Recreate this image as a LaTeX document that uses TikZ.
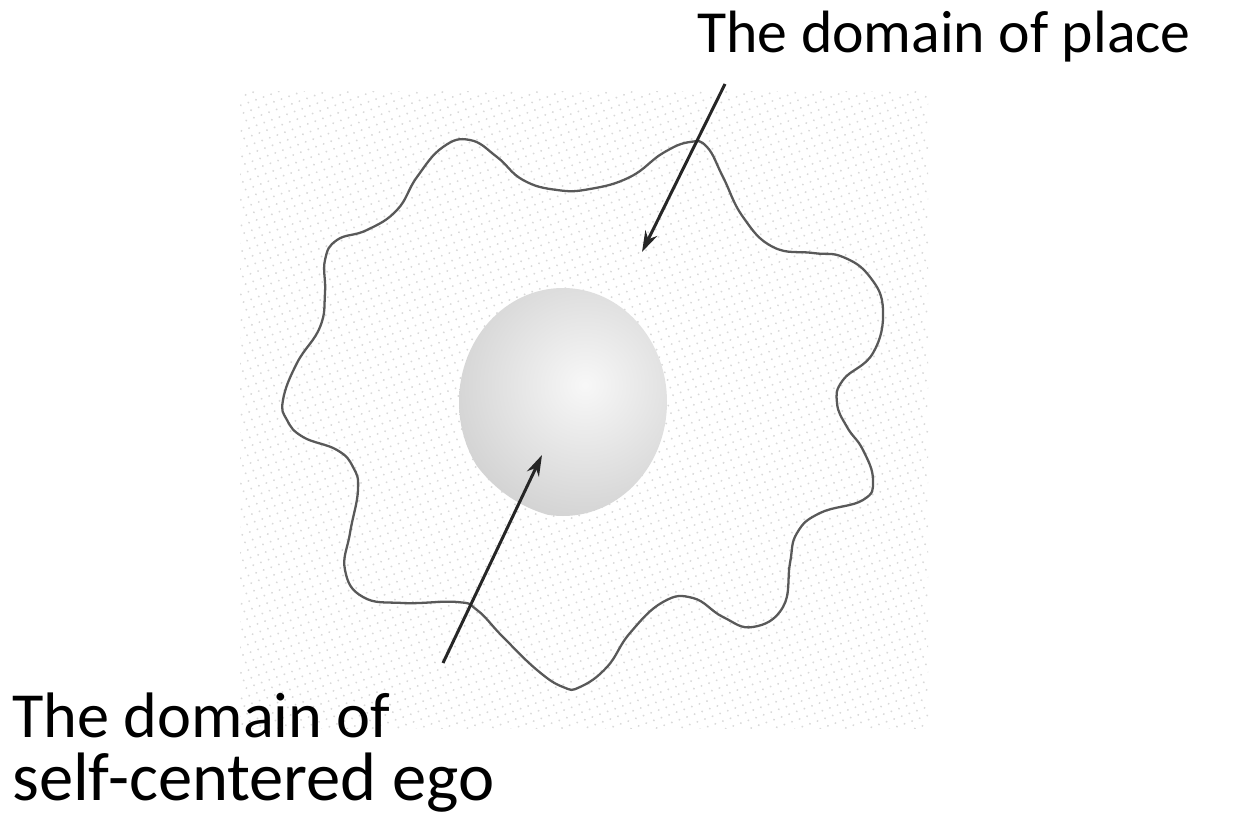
\documentclass[tikz,border=0pt]{standalone}
\usepackage{fontspec}
\setmainfont{Carlito}
\usetikzlibrary{arrows.meta,patterns.meta}

\tikzset{
  dotfill/.style={pattern={Dots[distance=4.6pt,radius=0.6pt,angle=20]},pattern color=gray!30},
  pointer/.style={->,line width=1.7pt,black!85},
  labeltext/.style={inner sep=0pt,align=left}
}

\begin{document}
\begin{tikzpicture}[x=0.02cm,y=-0.02cm,>={Stealth[length=12pt,width=7.5pt]},line join=round]
\useasboundingbox (0,0) rectangle (1235,838);
\fill[white] (0,0) rectangle (1235,838);

%% ---------------- faint dotted backdrop ----------------
\fill[dotfill] (240,92) rectangle (928,728);

%% ---------------- the domain of place: wavy outline ----------------
\draw[gray!70!black,line width=1.3pt] plot[smooth cycle,tension=0.75] coordinates {
   (470,140) (497,157) (523,180) (557,190) (590,189) (630,177) (663,153)
   (690,142) (707,147) (723,177) (743,217) (773,247) (813,253) (843,257)
   (870,277) (883,310) (873,353) (843,380) (837,403) (847,427) (863,450)
   (873,480) (863,500) (820,513) (797,533) (790,563) (783,607) (753,627)
   (723,617) (693,598) (663,602) (630,633) (607,667) (580,687) (563,687)
   (537,670) (503,637) (477,610) (457,602) (403,603) (363,597) (345,570)
   (350,533) (358,490) (353,467) (337,450) (303,437) (287,420) (283,400)
   (297,363) (320,327) (325,293) (325,260) (337,240) (367,230) (397,210)
   (417,177) (443,147)};

%% ---------------- the ego: shaded ball ----------------
\begin{scope}
  \clip (563,402) ellipse [x radius=104,y radius=114];
  \shade[inner color=gray!6,outer color=gray!34] (585,385) circle [radius=135];
\end{scope}

%% ---------------- labels ----------------
\node[labeltext,anchor=base west,font=\fontsize{34}{34}\selectfont] (place)
   at (697,53) {The domain of place};
\node[labeltext,anchor=base west,font=\fontsize{36.6}{35.5}\selectfont] (ego)
   at (12,800) {The domain of\\\fontsize{39}{35.5}\selectfont self-centered ego};

%% ---------------- pointers ----------------
\coordinate (placefrom) at (725,84);
\coordinate (placeto)   at (642,252);
\coordinate (egofrom)   at (443,663);
\coordinate (egoto)     at (542,455);
\draw[pointer] (placefrom) -- (placeto);
\draw[pointer] (egofrom) -- (egoto);

\end{tikzpicture}
\end{document}
